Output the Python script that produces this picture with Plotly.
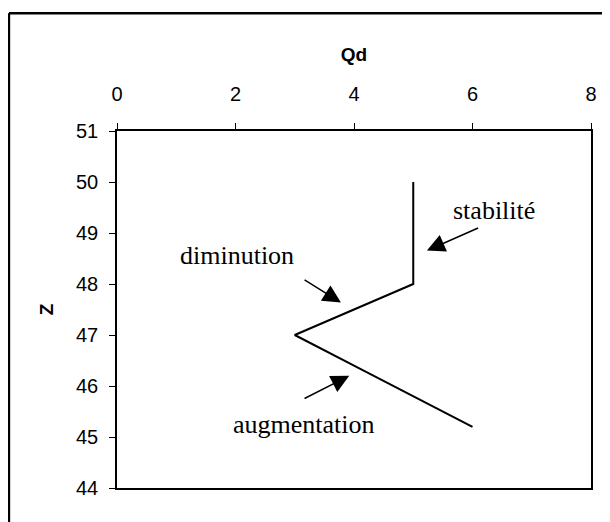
import plotly.graph_objects as go

# profil Qd en fonction de la profondeur Z
qd = [5, 5, 4, 3, 4, 5, 5.5, 6]
z = [50, 48, 47.5, 47, 46.4, 45.8, 45.5, 45.2]

# textes et fleches (position texte, pointe, queue)
labels = ["stabilité", "diminution", "augmentation"]
label_x = [6.37, 2.03, 3.16]
label_y = [49.45, 48.55, 45.25]
head_x = [5.23, 3.78, 3.92]
head_y = [48.655, 47.636, 46.20]
tail_x = [6.12, 3.14, 3.14]
tail_y = [49.11, 48.10, 45.74]

sans = "Liberation Sans, Arial, sans-serif"
serif = "Liberation Serif, Times New Roman, serif"

fig = go.Figure(go.Scatter(x=qd, y=z, mode="lines",
                           line=dict(color="black", width=2),
                           showlegend=False, hoverinfo="skip"))

for i in range(len(labels)):
    fig.add_annotation(x=label_x[i], y=label_y[i], text=labels[i], showarrow=False,
                       xref="x", yref="y", font=dict(family=serif, size=26, color="black"))
    fig.add_annotation(x=head_x[i], y=head_y[i], ax=tail_x[i], ay=tail_y[i],
                       xref="x", yref="y", axref="x", ayref="y", text="",
                       showarrow=True, arrowhead=2, arrowsize=2.4, arrowwidth=1.5,
                       arrowcolor="black", standoff=0)

# cadre exterieur (haut et gauche, le reste sort de l'image)
fig.add_shape(type="line", xref="paper", yref="paper",
              x0=-0.228, x1=1.035, y0=1.33, y1=1.33,
              line=dict(color="black", width=2.5))
fig.add_shape(type="line", xref="paper", yref="paper",
              x0=-0.228, x1=-0.228, y0=-0.5, y1=1.33,
              line=dict(color="black", width=2.5))

fig.update_xaxes(side="top", range=[0, 8], dtick=2, tick0=0,
                 showgrid=False, zeroline=False,
                 showline=True, mirror=True, linecolor="black", linewidth=1.5,
                 ticks="outside", ticklen=6, tickcolor="black",
                 ticklabelstandoff=14,
                 tickfont=dict(family=sans, size=20, color="black"),
                 title=dict(text="<b>Qd</b>", standoff=17,
                            font=dict(family=sans, size=19, color="black")))
fig.update_yaxes(range=[44, 51], dtick=1, tick0=44,
                 showgrid=False, zeroline=False,
                 showline=True, mirror=True, linecolor="black", linewidth=1.5,
                 ticks="outside", ticklen=6, tickcolor="black",
                 ticklabelstandoff=7,
                 tickfont=dict(family=sans, size=20, color="black"),
                 title=dict(text="<b>Z</b>", standoff=17,
                            font=dict(family=sans, size=19, color="black")))

# la page ajoute ~8 px de marge, compensee ici
fig.update_layout(width=610, height=522,
                  margin=dict(l=109, r=27, t=123, b=42),
                  plot_bgcolor="white", paper_bgcolor="white")

fig.write_html("out.html")
